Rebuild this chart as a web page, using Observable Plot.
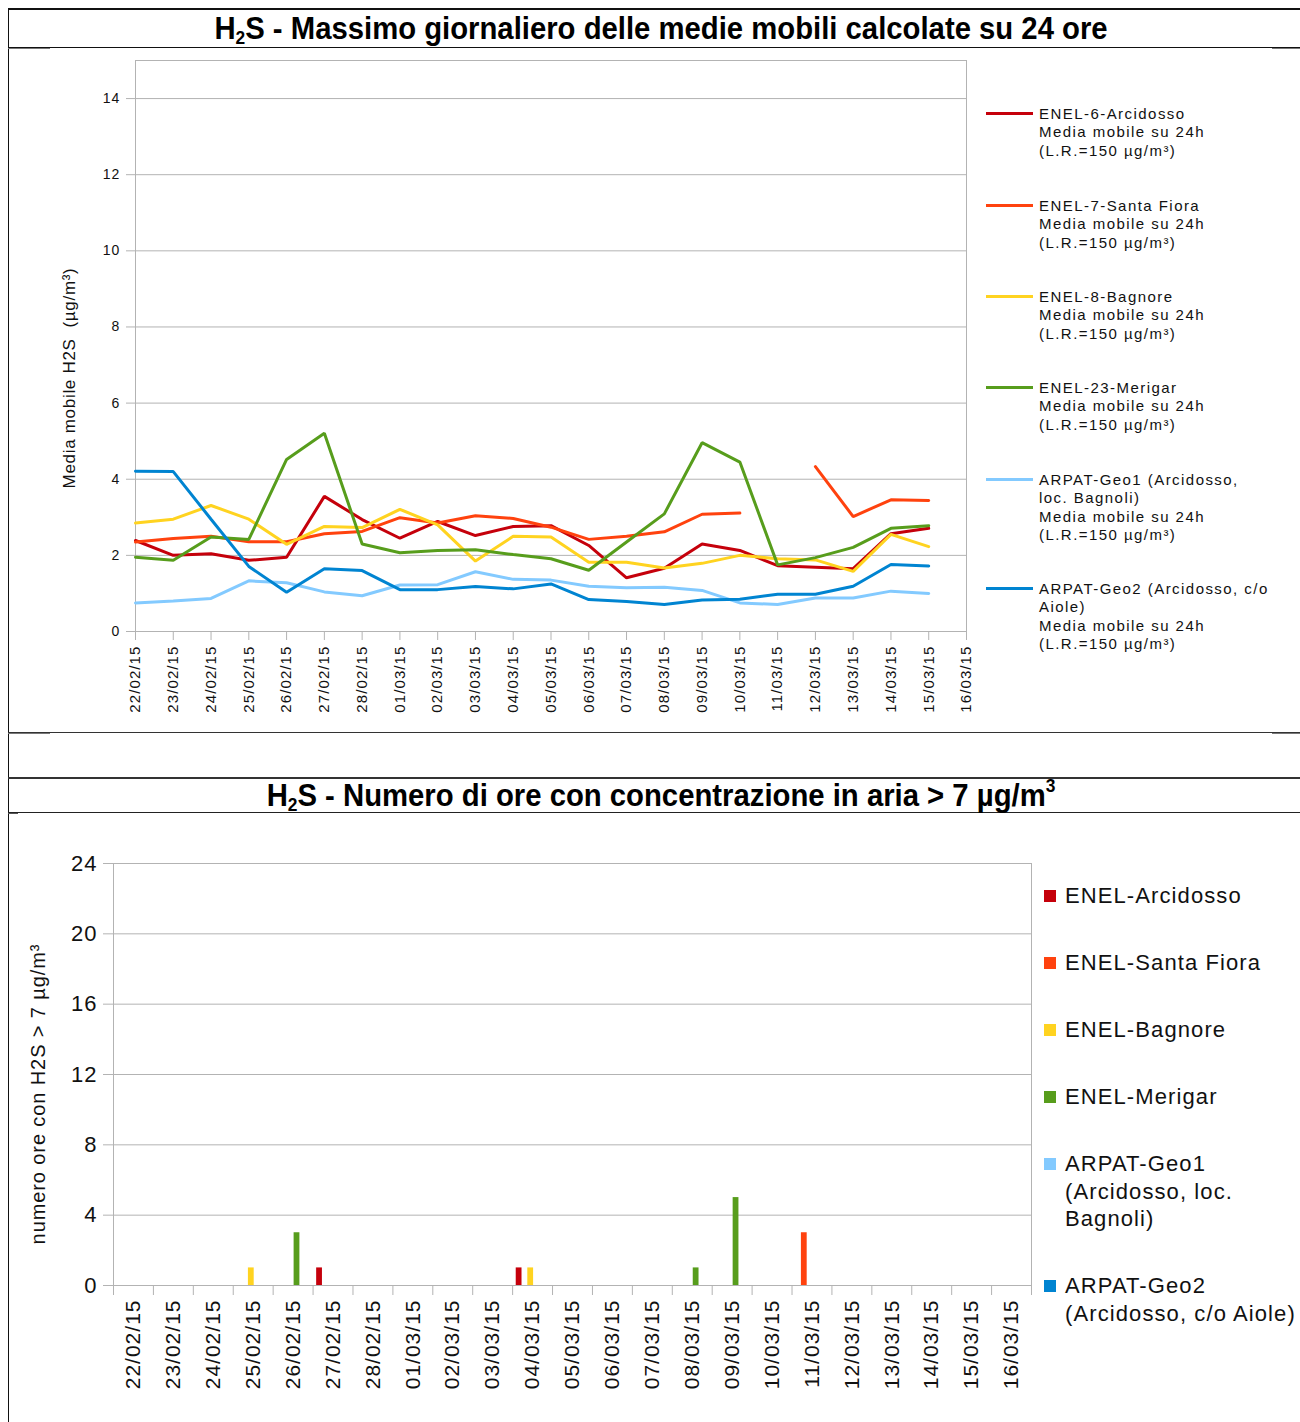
<!DOCTYPE html>
<html>
<head>
<meta charset="utf-8">
<script src="https://cdn.jsdelivr.net/npm/d3@7"></script>
<script src="https://cdn.jsdelivr.net/npm/@observablehq/plot@0.6"></script>
<style>
  html, body { margin: 0; padding: 0; background: #fff; }
  #page { position: relative; width: 1300px; height: 1422px; overflow: hidden; font-family: "Liberation Sans", Arial, sans-serif; color: #111; }
  .hl { position: absolute; height: 1px; background: #111; }
  .vl { position: absolute; width: 1px; background: #111; }
  .title { position: absolute; left: 0; width: 1322px; text-align: center; font-family: "Liberation Sans", Arial, sans-serif; font-weight: bold; font-size: 32px; color: #000; white-space: nowrap; transform: scaleX(0.915); transform-origin: 661px 50%; }
  .title sub { font-size: 19px; vertical-align: -5px; line-height: 0; }
  .title sup { font-size: 19px; vertical-align: 14px; line-height: 0; }
  .chart { position: absolute; left: 0; }
  #top svg text { letter-spacing: 1.1px; }
  #bot svg text { letter-spacing: 1px; }
  .ylab { position: absolute; transform: translate(-50%, -50%) rotate(-90deg); white-space: nowrap; color: #111; }
  .leg1 { position: absolute; left: 986px; font-size: 15px; letter-spacing: 1.45px; line-height: 18.3px; color: #111; }
  .leg1 .sw { position: absolute; left: 0; width: 47px; height: 3px; }
  .leg1 .tx { position: absolute; left: 53px; white-space: nowrap; }
  .leg2 { position: absolute; left: 1044px; font-size: 22px; letter-spacing: 1.1px; line-height: 27.5px; color: #111; }
  .leg2 .sq { position: absolute; left: 0; width: 12px; height: 12px; }
  .leg2 .tx { position: absolute; left: 21px; white-space: nowrap; }
</style>
</head>
<body>
<div id="page">
  <div class="hl" style="left:8px;top:8px;width:1292px;height:2px;"></div>
  <div class="vl" style="left:8px;top:8px;height:1414px;"></div>
  <div class="hl" style="left:8px;top:47px;width:1292px;"></div>
  <div class="hl" style="left:8px;top:48px;width:42px;background:#777;"></div>
  <div class="hl" style="left:1272px;top:48px;width:28px;background:#777;"></div>
  <div class="hl" style="left:8px;top:732px;width:1292px;background:#333;"></div>
  <div class="hl" style="left:8px;top:733px;width:42px;background:#777;"></div>
  <div class="hl" style="left:1272px;top:733px;width:28px;background:#777;"></div>
  <div class="hl" style="left:8px;top:777px;width:1292px;height:2px;background:#333;"></div>
  <div class="hl" style="left:8px;top:812px;width:1292px;background:#222;"></div>
  <div class="hl" style="left:8px;top:813px;width:10px;background:#555;"></div>

  <div class="title" style="top:10px;line-height:37px;">H<sub>2</sub>S - Massimo giornaliero delle medie mobili calcolate su 24 ore</div>
  <div class="title" style="top:779px;line-height:33px;">H<sub>2</sub>S - Numero di ore con concentrazione in aria &gt; 7 µg/m<sup>3</sup></div>

  <div id="top" class="chart" style="top:0;"></div>
  <div id="bot" class="chart" style="top:813px;"></div>

  <div class="ylab" style="left:70px;top:378px;font-size:17px;letter-spacing:0.7px;">Media mobile H2S&nbsp; (µg/m³)</div>
  <div class="ylab" style="left:38px;top:1094px;font-size:20px;letter-spacing:0.9px;">numero ore con H2S &gt; 7 µg/m³</div>

  <div id="legTop"></div>
  <div id="legBot"></div>
</div>
<script>
// ---------- data ----------
const dates = ["22/02/15","23/02/15","24/02/15","25/02/15","26/02/15","27/02/15","28/02/15",
  "01/03/15","02/03/15","03/03/15","04/03/15","05/03/15","06/03/15","07/03/15","08/03/15",
  "09/03/15","10/03/15","11/03/15","12/03/15","13/03/15","14/03/15","15/03/15","16/03/15"];

const lineNames = ["ENEL-6-Arcidosso", "ENEL-7-Santa Fiora", "ENEL-8-Bagnore", "ENEL-23-Merigar",
  "ARPAT-Geo1 (Arcidosso, loc. Bagnoli)", "ARPAT-Geo2 (Arcidosso, c/o Aiole)"];
const lineLegendText = [
  "ENEL-6-Arcidosso<br>Media mobile su 24h<br>(L.R.=150 µg/m³)",
  "ENEL-7-Santa Fiora<br>Media mobile su 24h<br>(L.R.=150 µg/m³)",
  "ENEL-8-Bagnore<br>Media mobile su 24h<br>(L.R.=150 µg/m³)",
  "ENEL-23-Merigar<br>Media mobile su 24h<br>(L.R.=150 µg/m³)",
  "ARPAT-Geo1 (Arcidosso,<br>loc. Bagnoli)<br>Media mobile su 24h<br>(L.R.=150 µg/m³)",
  "ARPAT-Geo2 (Arcidosso, c/o<br>Aiole)<br>Media mobile su 24h<br>(L.R.=150 µg/m³)"
];
const barNames = ["ENEL-Arcidosso", "ENEL-Santa Fiora", "ENEL-Bagnore", "ENEL-Merigar",
  "ARPAT-Geo1 (Arcidosso, loc. Bagnoli)", "ARPAT-Geo2 (Arcidosso, c/o Aiole)"];
const barLegendText = ["ENEL-Arcidosso", "ENEL-Santa Fiora", "ENEL-Bagnore", "ENEL-Merigar",
  "ARPAT-Geo1<br>(Arcidosso, loc.<br>Bagnoli)", "ARPAT-Geo2<br>(Arcidosso, c/o Aiole)"];
const colors = ["#c5000b", "#ff420e", "#ffd320", "#579d1c", "#83caff", "#0084d1"];

// daily max of 24h moving average (µg/m³), 22/02 .. 15/03
const mmArcidosso  = [2.39, 2.00, 2.04, 1.87, 1.95, 3.55, 2.94, 2.45, 2.89, 2.52, 2.76, 2.78, 2.26, 1.41, 1.66, 2.30, 2.13, 1.73, 1.69, 1.65, 2.57, 2.71];
const mmSantaFiora = [2.35, 2.44, 2.50, 2.36, 2.36, 2.57, 2.63, 2.99, 2.85, 3.04, 2.97, 2.74, 2.42, 2.50, 2.62, 3.08, 3.11, null, 4.33, 3.02, 3.46, 3.44];
const mmBagnore    = [2.85, 2.95, 3.31, 2.95, 2.29, 2.76, 2.73, 3.21, 2.80, 1.85, 2.50, 2.48, 1.82, 1.82, 1.67, 1.79, 2.00, 1.91, 1.88, 1.58, 2.55, 2.23];
const mmMerigar    = [1.95, 1.87, 2.48, 2.42, 4.52, 5.21, 2.30, 2.07, 2.13, 2.15, 2.02, 1.91, 1.61, 2.35, 3.09, 4.96, 4.45, 1.75, 1.94, 2.21, 2.71, 2.78];
const mmGeo1       = [0.75, 0.80, 0.87, 1.33, 1.28, 1.04, 0.94, 1.22, 1.23, 1.57, 1.37, 1.35, 1.19, 1.15, 1.16, 1.08, 0.75, 0.71, 0.88, 0.88, 1.06, 1.00];
const mmGeo2       = [4.21, 4.20, 2.95, 1.71, 1.03, 1.65, 1.60, 1.10, 1.10, 1.18, 1.12, 1.25, 0.84, 0.79, 0.71, 0.83, 0.85, 0.98, 0.98, 1.19, 1.76, 1.72];

// hours with concentration > 7 µg/m³, 22/02 .. 15/03
const hArcidosso  = [0,0,0,0,0,1,0,0,0,0,1,0,0,0,0,0,0,0,0,0,0,0];
const hSantaFiora = [0,0,0,0,0,0,0,0,0,0,0,0,0,0,0,0,0,3,0,0,0,0];
const hBagnore    = [0,0,0,1,0,0,0,0,0,0,1,0,0,0,0,0,0,0,0,0,0,0];
const hMerigar    = [0,0,0,0,3,0,0,0,0,0,0,0,0,0,1,5,0,0,0,0,0,0];
const hGeo1       = [0,0,0,0,0,0,0,0,0,0,0,0,0,0,0,0,0,0,0,0,0,0];
const hGeo2       = [0,0,0,0,0,0,0,0,0,0,0,0,0,0,0,0,0,0,0,0,0,0];

const topTicks = [0, 2, 4, 6, 8, 10, 12, 14];
const botTicks = [0, 4, 8, 12, 16, 20, 24];

// ---------- top chart ----------
const mmSeries = [mmArcidosso, mmSantaFiora, mmBagnore, mmMerigar, mmGeo1, mmGeo2];
const lineRows = lineNames.flatMap((name, k) =>
  mmSeries[k].map((v, i) => ({date: dates[i], value: v, series: name})));

const gridColor = "#b3b3b3";

const topPlot = Plot.plot({
  width: 1300, height: 732,
  marginLeft: 135, marginRight: 334, marginTop: 60, marginBottom: 101,
  style: {fontFamily: "Liberation Sans, Arial, sans-serif", fontSize: "14px", color: "#111", background: "transparent"},
  x: {type: "point", domain: dates, padding: 0, round: false},
  y: {domain: [0, 15]},
  color: {domain: lineNames, range: colors},
  marks: [
    Plot.gridY(topTicks, {stroke: gridColor, strokeOpacity: 1}),
    Plot.frame({stroke: gridColor}),
    Plot.axisY(topTicks, {tickSize: 9, tickPadding: 6, stroke: gridColor, fill: "#111", fontSize: 14, label: null}),
    Plot.axisX(dates, {tickSize: 9, tickPadding: 5, tickRotate: -90, stroke: gridColor, fill: "#111", fontSize: 15, label: null}),
    Plot.line(lineRows, {x: "date", y: "value", z: "series", stroke: "series", strokeWidth: 3, strokeLinejoin: "miter"})
  ]
});
document.getElementById("top").appendChild(topPlot);

// ---------- bottom chart ----------
const hSeries = [hArcidosso, hSantaFiora, hBagnore, hMerigar, hGeo1, hGeo2];
const barRows = barNames.flatMap((name, k) =>
  hSeries[k].map((v, i) => ({i, k, value: v, series: name}))).filter(d => d.value > 0);

const groupInset = 0.09, barStep = 0.145;
const botPlot = Plot.plot({
  width: 1300, height: 609,
  marginLeft: 113, marginRight: 269, marginTop: 50, marginBottom: 137,
  style: {fontFamily: "Liberation Sans, Arial, sans-serif", fontSize: "21px", color: "#111", background: "transparent"},
  x: {domain: [0, dates.length]},
  y: {domain: [0, 24]},
  color: {domain: barNames, range: colors},
  marks: [
    Plot.gridY(botTicks, {stroke: gridColor, strokeOpacity: 1}),
    Plot.frame({stroke: gridColor}),
    Plot.axisY(botTicks, {tickSize: 10, tickPadding: 6, stroke: gridColor, fill: "#111", fontSize: 22, label: null}),
    Plot.axisX(d3.range(dates.length + 1), {tickSize: 10, stroke: gridColor, tickFormat: () => "", label: null}),
    Plot.axisX(d3.range(dates.length).map(i => i + 0.5), {tickSize: 0, tickPadding: 14, tickRotate: -90, fill: "#111", fontSize: 21,
      tickFormat: v => dates[Math.floor(v)], label: null}),
    Plot.rectY(barRows, {
      x1: d => d.i + groupInset + d.k * barStep,
      x2: d => d.i + groupInset + (d.k + 1) * barStep,
      y1: 0, y2: "value", fill: "series"
    })
  ]
});
document.getElementById("bot").appendChild(botPlot);

// ---------- legends ----------
const legTopY = [105, 197, 288, 379, 471, 580];
const legTop = document.getElementById("legTop");
lineNames.forEach((n, k) => {
  const e = document.createElement("div");
  e.className = "leg1";
  e.style.top = legTopY[k] + "px";
  e.innerHTML = `<div class="sw" style="top:7px;background:${colors[k]}"></div><div class="tx">${lineLegendText[k]}</div>`;
  legTop.appendChild(e);
});
const legBotY = [882, 949, 1016, 1083, 1150, 1272];
const legBot = document.getElementById("legBot");
barNames.forEach((n, k) => {
  const e = document.createElement("div");
  e.className = "leg2";
  e.style.top = legBotY[k] + "px";
  e.innerHTML = `<div class="sq" style="top:8px;background:${colors[k]}"></div><div class="tx">${barLegendText[k]}</div>`;
  legBot.appendChild(e);
});
</script>
</body>
</html>
